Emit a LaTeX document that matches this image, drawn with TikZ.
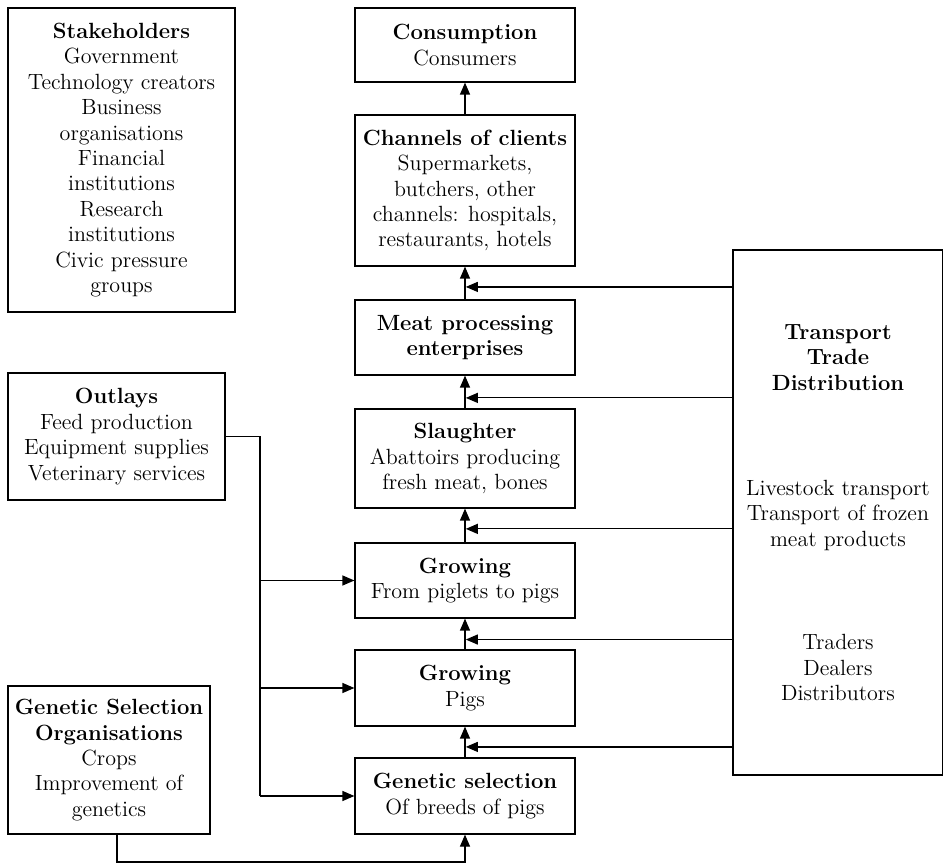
\documentclass[tikz,border=0pt]{standalone}
\usepackage{tikz}
\usetikzlibrary{arrows.meta}
\usetikzlibrary{calc}

\begin{document}
\begin{tikzpicture}[x=0.5pt, y=-0.5pt, semithick,
	box/.style={draw, align=center, inner sep=2pt, font=\fontsize{11pt}{12.7pt}\selectfont},
	arr/.style={-{Triangle[length=6pt,width=5pt]}}]
	\useasboundingbox (0,0) rectangle (943,865);
	
	\node[box, minimum width=113.5pt, minimum height=152pt] (stake) at (121.5,160) {\textbf{Stakeholders}\\Government\\Technology creators\\Business\\organisations\\Financial\\institutions\\Research\\institutions\\Civic pressure\\groups};
	\node[box, minimum width=108.5pt, minimum height=63.5pt] (outlays) at (116.5,436.5) {\textbf{Outlays}\\Feed production\\Equipment supplies\\Veterinary services};
	\node[box, minimum width=101pt, minimum height=74pt] (gso) at (109,760) {\textbf{Genetic Selection}\\\textbf{Organisations}\\Crops\\Improvement of\\genetics};
	
	\node[box, minimum width=110pt, minimum height=37pt] (consumption) at (465,45) {\textbf{Consumption}\\Consumers};
	\node[box, minimum width=110pt, minimum height=75.5pt] (channels) at (465,190.5) {\textbf{Channels of clients}\\Supermarkets,\\butchers, other\\channels: hospitals,\\restaurants, hotels};
	\node[box, minimum width=110pt, minimum height=37.5pt] (meat) at (465,337.5) {\textbf{Meat processing}\\\textbf{enterprises}};
	\node[box, minimum width=110pt, minimum height=49.5pt] (slaughter) at (465,458.5) {\textbf{Slaughter}\\Abattoirs producing\\fresh meat, bones};
	\node[box, minimum width=110pt, minimum height=37.5pt] (growA) at (465,580.5) {\textbf{Growing}\\From piglets to pigs};
	\node[box, minimum width=110pt, minimum height=38pt] (growB) at (465,688) {\textbf{Growing}\\Pigs};
	\node[box, minimum width=110pt, minimum height=38pt] (genetic) at (465,796) {\textbf{Genetic selection}\\Of breeds of pigs};
	
	\node[box, minimum width=105pt, minimum height=262.5pt] (transport) at (838,512.5) {\textbf{Transport}\\\textbf{Trade}\\\textbf{Distribution}\\[40pt]Livestock transport\\Transport of frozen\\meat products\\[39pt]Traders\\Dealers\\Distributors};
	
	\draw[arr] (channels) -- (consumption);
	\draw[arr] (meat) -- (channels);
	\draw[arr] (slaughter) -- (meat);
	\draw[arr] (growA) -- (slaughter);
	\draw[arr] (growB) -- (growA);
	\draw[arr] (genetic) -- (growB);
	
	\coordinate (j1) at ($(channels.south)!0.62!(meat.north)$);
	\coordinate (j2) at ($(meat.south)!0.68!(slaughter.north)$);
	\coordinate (j3) at ($(slaughter.south)!0.6!(growA.north)$);
	\coordinate (j4) at ($(growA.south)!0.68!(growB.north)$);
	\coordinate (j5) at ($(growB.south)!0.66!(genetic.north)$);
	\foreach \j in {j1,j2,j3,j4,j5}
		\draw[arr, shorten >=0.4pt] (transport.west |- \j) -- (\j);
	
	\coordinate (bus) at (260,0);
	\draw (outlays.east) -| (bus |- genetic.west);
	\draw[arr] (bus |- growA.west) -- (growA.west);
	\draw[arr] (bus |- growB.west) -- (growB.west);
	\draw[arr] (bus |- genetic.west) -- (genetic.west);
	
	\coordinate (floor) at (465,862);
	\draw[arr] ([xshift=4pt]gso.south) |- (floor) -- (genetic.south);
\end{tikzpicture}
\end{document}
